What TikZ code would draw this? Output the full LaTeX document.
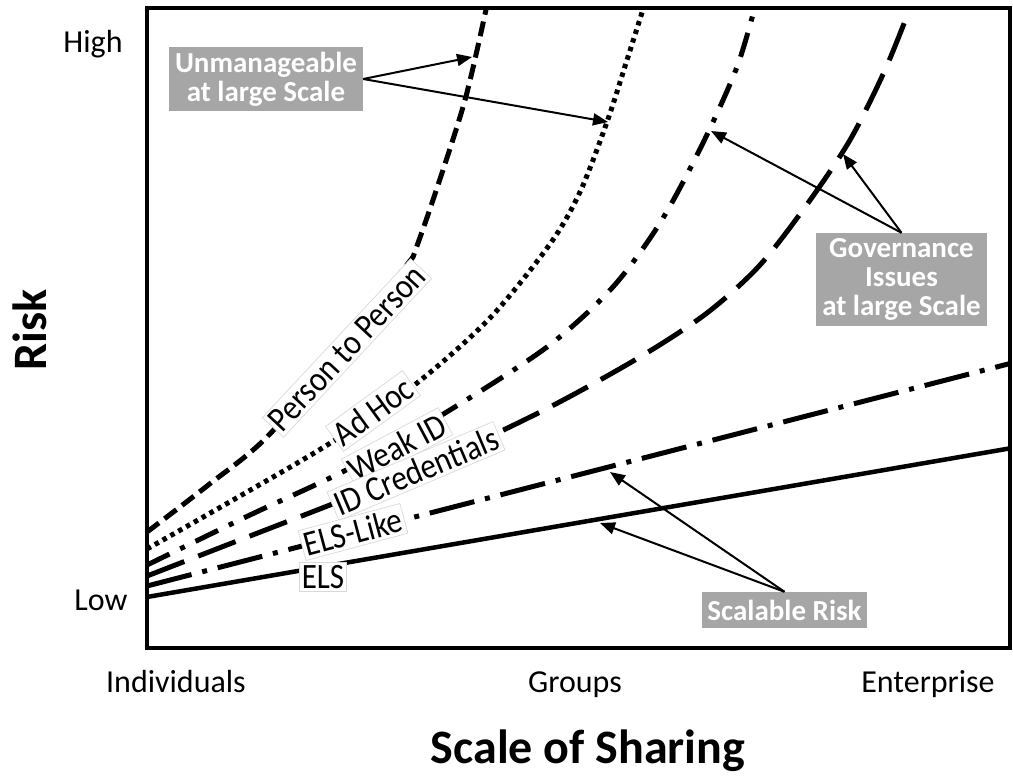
\documentclass[tikz,border=0pt]{standalone}
\usepackage{fontspec}
\setmainfont{Carlito}
\usetikzlibrary{arrows.meta}
\definecolor{calloutgray}{HTML}{A6A6A6}
\definecolor{tagborder}{HTML}{D9D9D9}
\begin{document}
\begin{tikzpicture}[x=1pt,y=-1pt,
  curve/.style={line width=5pt},
  tag/.style={fill=white, draw=tagborder, line width=0.7pt, inner sep=2.5pt,
    font=\fontsize{31}{33}\selectfont},
  callout/.style={fill=calloutgray, text=white, align=center, inner sep=0pt,
    font=\bfseries\fontsize{29}{29}\selectfont},
  pointer/.style={line width=2pt, -{Triangle[length=15pt,width=12pt]}},
  tick/.style={font=\fontsize{32}{34}\selectfont},
  axistitle/.style={font=\bfseries\fontsize{48}{50}\selectfont}]

\useasboundingbox (0,0) rectangle (1013,776);

% plot frame
\draw[line width=4pt] (147,8) rectangle (1010,648);

% risk curves, kept inside the frame
\begin{scope}
  \clip (149,10) rectangle (1008,646);
  % Person to Person
  \draw[curve, dash pattern=on 15pt off 7pt]
    plot[smooth] coordinates {(147,532) (207,486) (267,437) (340,350) (413,257)}
    -- plot[smooth] coordinates {(413,257) (433,200) (465,100) (487,5)};
  % Ad Hoc
  \draw[curve, dash pattern=on 4.5pt off 4.5pt]
    plot[smooth] coordinates {(147,549) (240,496) (332,442) (417,383) (490,318)
      (550,244) (580,192) (607,122) (627,60) (645,3)};
  % Weak ID
  \draw[curve, dash pattern=on 25pt off 12pt on 5pt off 12pt]
    plot[smooth] coordinates {(147,565) (250,515) (350,468) (450,410) (547,347)
      (612,288) (660,223) (702,145) (737,67) (756,3)};
  % ID Credentials
  \draw[curve, dash pattern=on 40pt off 15pt]
    plot[smooth] coordinates {(147,576) (250,536) (350,497) (450,455) (550,407)
      (640,357) (707,313) (760,265) (808,203) (850,140) (885,70) (912,3)};
  % ELS-Like
  \draw[curve, dash pattern=on 46pt off 11pt on 5pt off 11pt]
    (147,586) -- (1012,363);
  % ELS
  \draw[line width=4.5pt] (147,597) -- (1012,448);
\end{scope}

% curve labels
\node[tag, rotate=47, yscale=1.15] (lp2p) at (347,348) {Person to Person};
\node[tag, rotate=36, yscale=1.15] (ladhoc) at (373,411) {Ad Hoc};
\node[tag, rotate=28, yscale=1.15] (lweak) at (397,447) {Weak ID};
\node[tag, rotate=23, yscale=1.15] (lcred) at (416,471) {ID Credentials};
\node[tag, rotate=15, yscale=1.15] (lelslike) at (353,532) {ELS-Like};
\node[tag, yscale=1.15] (lels) at (323,577) {ELS};

% axis labels
\node[tick] (high) at (93,44) {High};
\node[tick] (low) at (101,600) {Low};
\node[tick, anchor=base] (indiv) at (176,692) {Individuals};
\node[tick, anchor=base] (groups) at (575,692) {Groups};
\node[tick, anchor=base] (enterprise) at (928,692) {Enterprise};
\node[axistitle, anchor=base] (xtitle) at (588,763) {Scale of Sharing};
\node[axistitle, rotate=90] (ytitle) at (30,330) {Risk};

% callouts
\node[callout, minimum width=194pt, minimum height=64pt] (unm) at (266,79)
  {Unmanageable\\at large Scale};
\node[callout, minimum width=171pt, minimum height=93pt] (gov) at (901.5,279.5)
  {Governance\\Issues\\at large Scale};
\node[callout, minimum width=165pt, minimum height=36pt] (scal) at (784.5,610)
  {Scalable Risk};

% pointer targets on the curves
\coordinate (p2pTip) at (472,57);
\coordinate (adhocTip) at (608,122);
\coordinate (weakTip) at (711,131);
\coordinate (credTip) at (843,154);
\coordinate (elslikeTip) at (610,472);
\coordinate (elsTip) at (600,523);

\draw[pointer] (unm.east) -- (p2pTip);
\draw[pointer] (unm.east) -- (adhocTip);
\draw[pointer] (gov.north) -- (weakTip);
\draw[pointer] (gov.north) -- (credTip);
\draw[pointer] (scal.north) -- (elslikeTip);
\draw[pointer] (scal.north) -- (elsTip);
\end{tikzpicture}
\end{document}
